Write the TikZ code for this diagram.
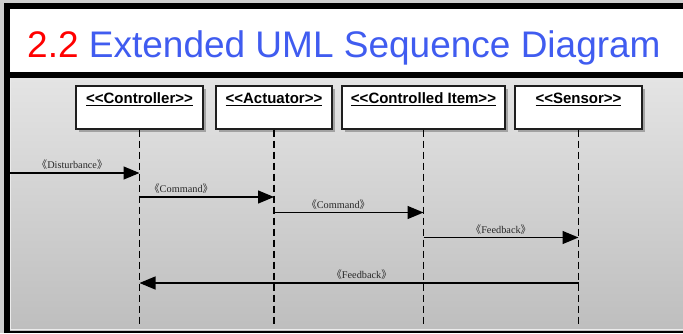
\documentclass[tikz,border=0pt]{standalone}
\usepackage{fontspec}
\setmainfont{Liberation Serif}
\newfontfamily\hdrfont{Liberation Sans}
\newfontfamily\cjk{Noto Sans CJK SC}
\usetikzlibrary{arrows.meta,shadows}

\definecolor{titleblue}{RGB}{64,92,240}
\definecolor{outergray}{RGB}{207,207,207}
\definecolor{paneltop}{RGB}{228,228,228}
\definecolor{panelbot}{RGB}{190,190,190}
\definecolor{msgtext}{RGB}{40,40,40}

\newcommand{\stereo}[1]{{\cjk 《}#1{\cjk 》}}

\tikzset{
  objbox/.style={rectangle, draw={rgb,255:red,30;green,30;blue,30}, line width=1.2pt,
    fill=white, minimum height=43pt, inner sep=0pt,
    drop shadow={shadow xshift=2.5pt, shadow yshift=-2.5pt, fill=black!55, opacity=.55}},
  hdr/.style={font=\hdrfont\bfseries\fontsize{15}{17}\selectfont, anchor=base,
    yshift=-18pt, inner sep=0pt},
  life/.style={draw=black, line width=1.2pt, dash pattern=on 7pt off 4pt},
  msgarrow/.style={line width=1.3pt, -{Triangle[length=16pt,width=13pt]}},
  msg/.style={font=\fontsize{10.3}{12}\selectfont, text=msgtext, inner sep=0pt,
    anchor=center, yshift=8pt}
}

\begin{document}
\begin{tikzpicture}[x=1pt,y=-1pt]
\useasboundingbox (0,0) rectangle (683,333);

% frame and backgrounds
\fill[outergray] (0,0) rectangle (683,333);
\fill[black] (4,3) rectangle (683,333);
\fill[white] (10,9) rectangle (683,72);
\shade[top color=paneltop, bottom color=panelbot] (10,78) rectangle (683,330);
\draw[white!85!gray, line width=0.6pt] (10.5,78) -- (10.5,329.5) -- (683,329.5);

% title
\node[anchor=base west, inner sep=0pt, font=\hdrfont\fontsize{37}{40}\selectfont,
      text=titleblue] (title) at (27,57) {\textcolor{red}{2.2} Extended UML Sequence Diagram};

% object boxes
\node[objbox, minimum width=127pt,
      label={[hdr]north:\underline{<<Controller>>}}] (ctrl) at (139.5,107.5) {};
\node[objbox, minimum width=116pt,
      label={[hdr]north:\underline{<<Actuator>>}}] (act) at (274,107.5) {};
\node[objbox, minimum width=163pt,
      label={[hdr]north:\underline{<<Controlled Item>>}}] (item) at (423.5,107.5) {};
\node[objbox, minimum width=127pt,
      label={[hdr]north:\underline{<<Sensor>>}}] (sens) at (578.5,107.5) {};

% lifelines
\foreach \o in {ctrl,act,item,sens}
  \draw[life] (\o.south) -- (\o.south |- 0,324);

% messages
\coordinate (src) at (10,173);
\draw[msgarrow] (src) -- (ctrl.south |- src)
  node[msg, pos=.48] {\stereo{Disturbance}};
\draw[msgarrow] (ctrl.south |- 0,197) -- (act.south |- 0,197)
  node[msg, pos=.31] {\stereo{Command}};
\draw[msgarrow] (act.south |- 0,212.5) -- (item.south |- 0,212.5)
  node[msg, pos=.43] {\stereo{Command}};
\draw[msgarrow] (item.south |- 0,237.5) -- (sens.south |- 0,237.5)
  node[msg, pos=.5] {\stereo{Feedback}};
\draw[msgarrow] (sens.south |- 0,283) -- (ctrl.south |- 0,283)
  node[msg, pos=.494] {\stereo{Feedback}};
\end{tikzpicture}
\end{document}
